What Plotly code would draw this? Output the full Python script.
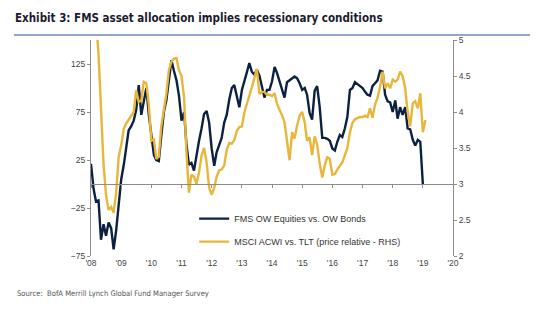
import pandas as pd
import plotly.graph_objects as go

# FMS net % overweight equities vs. overweight bonds (monthly, LHS)
fms_ow_equities_vs_bonds = [
    21, -5, -18, -17, -58, -42, -54, -40, -46, -68, -48, -20,
    5, 20, 40, 56, 60, 66, 77, 103, 72, 84, 100, 72,
    48, 30, 25, 24, 50, 75, 87, 108, 129, 118, 108, 92,
    66, 75, 42, 20, 22, 14, 30, 45, 58, 73, 76, 64,
    37, 19, 33, 40, 48, 64, 72, 88, 100, 103, 90, 80,
    98, 109, 116, 126, 117, 114, 119, 113, 101, 90, 98, 98,
    107, 122, 116, 108, 100, 90, 106, 108, 110, 112, 110, 105,
    98, 100, 93, 74, 67, 97, 102, 80, 48, 48, 47, 45,
    37, 35, 44, 51, 49, 58, 70, 98, 100, 106, 104, 102,
    100, 96, 93, 92, 102, 105, 108, 118, 117, 93, 86, 85,
    75, 87, 68, 80, 72, 80, 58, 57, 46, 40, 46, 44,
    0,
]

# MSCI ACWI vs. TLT price relative (monthly, RHS)
msci_acwi_vs_tlt = [
    6.2, 5.8, 5.3, 4.8, 4.14, 3.27, 2.85, 2.64, 2.68, 2.6, 2.88, 3.38,
    3.54, 3.77, 3.84, 3.89, 3.95, 4.0, 4.3, 4.14, 4.16, 4.42, 4.4, 4.1,
    3.6, 3.62, 3.35, 3.38, 3.8, 4.0, 4.25, 4.58, 4.7, 4.74, 4.75, 4.58,
    4.5, 4.2, 3.45, 2.88, 3.13, 3.1, 3.0, 3.16, 3.4, 3.5, 3.3, 2.95,
    2.85, 2.95, 3.1, 3.19, 3.2, 3.26, 3.47, 3.57, 3.56, 3.61, 3.74, 3.79,
    3.8, 4.0, 4.1, 4.22, 4.34, 4.47, 4.6, 4.25, 4.28, 4.28, 4.24, 4.24,
    4.22, 4.26, 4.12, 4.03, 3.96, 3.86, 3.62, 3.33, 3.72, 3.63, 3.82, 3.95,
    4.0, 3.85, 3.6, 3.65, 3.4, 3.66, 3.55, 3.28, 3.09, 3.26, 3.37, 3.35,
    3.13, 3.14, 3.2, 3.25, 3.3, 3.4, 3.5, 3.72, 3.85, 3.9, 3.92, 3.93,
    3.93, 3.95, 3.93, 4.05, 3.92, 4.1, 4.2, 4.35, 4.56, 4.33, 4.4, 4.33,
    4.45, 4.42, 4.45, 4.56, 4.5, 4.33, 4.0, 3.8, 4.12, 4.15, 4.05, 4.26,
    3.72, 3.89,
]

fms_dates = pd.date_range("2008-01-01", periods=len(fms_ow_equities_vs_bonds), freq="MS")
msci_dates = pd.date_range("2008-01-01", periods=len(msci_acwi_vs_tlt), freq="MS")

year_ticks = [f"{y}-01-01" for y in range(2008, 2021)]
year_labels = [f"'{y % 100:02d}" for y in range(2008, 2021)]
lhs_ticks = [-75, -25, 25, 75, 125]
rhs_ticks = [2, 2.5, 3, 3.5, 4, 4.5, 5]
rhs_labels = ["2", "2.5", "3", "3.5", "4", "4.5", "5"]

NAVY = "#0c2142"
GOLD = "#e8b63a"
AXIS = "#8c8c8c"
TXT = "#444444"
BASE_FONT = "Liberation Sans, Arial, sans-serif"
NARROW_FONT = "Liberation Sans Narrow, DejaVu Sans Condensed, Arial Narrow, sans-serif"

fig = go.Figure()
fig.add_trace(go.Scatter(
    x=fms_dates, y=fms_ow_equities_vs_bonds, mode="lines",
    name="FMS OW Equities vs. OW Bonds",
    line=dict(color=NAVY, width=2.4), legendgroup="a",
))
fig.add_trace(go.Scatter(
    x=msci_dates, y=msci_acwi_vs_tlt, mode="lines", yaxis="y2",
    name="MSCI ACWI vs. TLT (price relative - RHS)",
    line=dict(color=GOLD, width=2.4), legendgroup="b",
))
# empty trace that carries the zero-level axis line with its year ticks
fig.add_trace(go.Scatter(x=[], y=[], xaxis="x2", mode="lines",
                         showlegend=False, hoverinfo="skip"))

x_range = ["2008-01-01", "2020-01-01"]

fig.update_layout(
    width=545, height=323,
    margin=dict(l=91, r=92, t=40, b=67),
    paper_bgcolor="white", plot_bgcolor="white",
    font=dict(family=BASE_FONT, size=8.5, color=TXT),
    showlegend=True,
    legend=dict(
        x=0.285, y=0.24, xanchor="left", yanchor="top",
        bgcolor="rgba(0,0,0,0)", font=dict(size=9, color="#333333"),
        traceorder="grouped", tracegroupgap=4,
    ),
    xaxis=dict(
        type="date", range=x_range, tickvals=year_ticks, ticktext=year_labels,
        showgrid=False, zeroline=False, showline=False, ticks="",
        tickfont=dict(size=8.5, color=TXT),
    ),
    xaxis2=dict(
        type="date", range=x_range, overlaying="x", anchor="free", position=75 / 225,
        tickvals=year_ticks, showticklabels=False, ticks="outside", ticklen=3,
        tickcolor=AXIS, showline=True, linecolor=AXIS, linewidth=1,
        showgrid=False, zeroline=False,
    ),
    yaxis=dict(
        range=[-75, 150], tickvals=lhs_ticks, showgrid=False, zeroline=False,
        showline=True, linecolor=AXIS, linewidth=1, ticks="outside", ticklen=3,
        tickcolor=AXIS, tickfont=dict(size=8.5, color=TXT),
    ),
    yaxis2=dict(
        range=[2, 5], tickvals=rhs_ticks, ticktext=rhs_labels, overlaying="y",
        side="right", showgrid=False, zeroline=False, showline=True,
        linecolor=AXIS, linewidth=1, ticks="outside", ticklen=3, tickcolor=AXIS,
        tickfont=dict(size=8.5, color=TXT),
    ),
    title=dict(
        text="<b>Exhibit 3: FMS asset allocation implies recessionary conditions</b>",
        xref="container", yref="container", x=15 / 545, xanchor="left",
        y=1 - 18 / 323, yanchor="middle",
        font=dict(family=NARROW_FONT, size=11.5, color="#1b1b2e"),
    ),
)

# blue rule under the title
fig.add_shape(type="line", xref="paper", yref="paper",
              x0=(14 - 91) / 362, x1=(530 - 91) / 362,
              y0=1 + 5 / 216, y1=1 + 5 / 216,
              line=dict(color="#6a8cb8", width=1.5))

fig.add_annotation(
    text="Source:  BofA Merrill Lynch Global Fund Manager Survey",
    xref="paper", yref="paper", x=(15 - 91) / 362, y=-(293 - 256) / 216,
    xanchor="left", yanchor="middle", showarrow=False,
    font=dict(family=NARROW_FONT, size=7.6, color="#555555"),
)

fig.write_html("out.html")
